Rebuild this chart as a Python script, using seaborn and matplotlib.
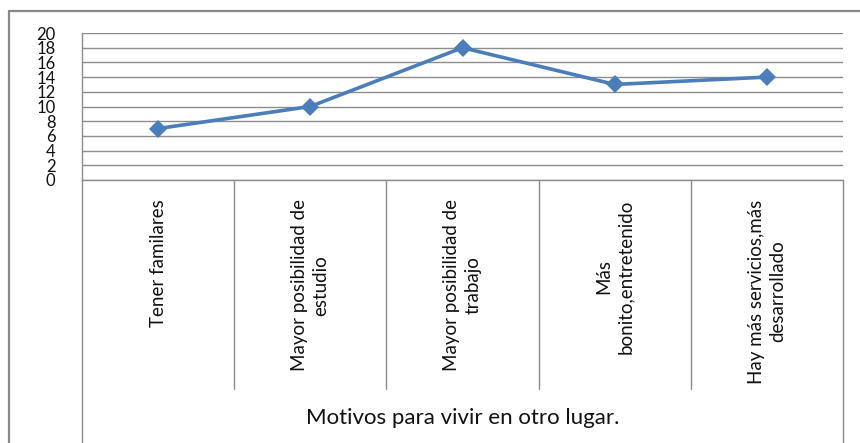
import matplotlib
matplotlib.use("Agg")
import matplotlib.pyplot as plt
import matplotlib.transforms as mtransforms
from matplotlib.lines import Line2D
import seaborn as sns
import pandas as pd

categories = [
    "Tener familares",
    "Mayor posibilidad de\nestudio",
    "Mayor posibilidad de\ntrabajo",
    "Más\nbonito,entretenido",
    "Hay más servicios,más\ndesarrollado",
]
values = [7, 10, 18, 13, 14]
y_ticks = [0, 2, 4, 6, 8, 10, 12, 14, 16, 18, 20]
group_label = "Motivos para vivir en otro lugar."

sns.set_theme(style="white")
plt.rcParams["font.family"] = ["Lato", "DejaVu Sans"]

W, H = 860, 443
fig = plt.figure(figsize=(W / 100, H / 100), dpi=100)
fig.patch.set_facecolor("white")

left, right, top, bottom = 82, 843, 33, 180
ax = fig.add_axes([left / W, (H - bottom) / H, (right - left) / W, (bottom - top) / H])

df = pd.DataFrame({"cat": categories, "val": values})
line_color = "#4a7ebb"
sns.lineplot(data=df, x="cat", y="val", ax=ax, sort=False, color=line_color,
             linewidth=2.6, marker="D", markersize=9.5, markeredgewidth=0,
             markerfacecolor=line_color)

ax.set_xlim(-0.5, len(categories) - 0.5)
ax.set_ylim(0, 20)
ax.set_yticks(y_ticks)
ax.set_yticklabels([str(t) for t in y_ticks], fontsize=12, color="#111111")
ax.tick_params(axis="y", length=7, width=1, color="#8c8c8c", pad=12, direction="out")
ax.set_xticks(range(len(categories)))
ax.set_xticklabels(categories, rotation=90, ha="center", va="top",
                   fontsize=13.5, color="#111111", multialignment="center",
                   linespacing=1.3)
ax.tick_params(axis="x", length=0, pad=14)
ax.set_xlabel("")
ax.set_ylabel("")

ax.yaxis.grid(True, color="#8c8c8c", linewidth=1)
ax.xaxis.grid(False)
for s in ["top", "right"]:
    ax.spines[s].set_visible(False)
ax.spines["left"].set_color("#8c8c8c")
ax.spines["left"].set_linewidth(1)
ax.spines["bottom"].set_color("#8c8c8c")
ax.spines["bottom"].set_linewidth(1)

# category separators
blend = mtransforms.blended_transform_factory(ax.transData, ax.transAxes)
plot_h = bottom - top
inner_bot = -(389 - bottom) / plot_h
outer_bot = -(445 - bottom) / plot_h
n = len(categories)
for i in range(n + 1):
    xb = i - 0.5
    yb = outer_bot if i in (0, n) else inner_bot
    ax.add_line(Line2D([xb, xb], [0, yb], transform=blend, color="#8c8c8c",
                       linewidth=1, clip_on=False))

ax.text((n - 1) / 2, -(418 - bottom) / plot_h, group_label, transform=blend,
        ha="center", va="center", fontsize=16, color="#111111")

# outer chart frame
fig.add_artist(Line2D([9 / W, 9 / W], [0, 1 - 11 / H], transform=fig.transFigure,
                      color="#898989", linewidth=1.6))
fig.add_artist(Line2D([9 / W, 1], [1 - 11 / H, 1 - 11 / H], transform=fig.transFigure,
                      color="#898989", linewidth=1.6))

fig.savefig("out.png", dpi=100)
